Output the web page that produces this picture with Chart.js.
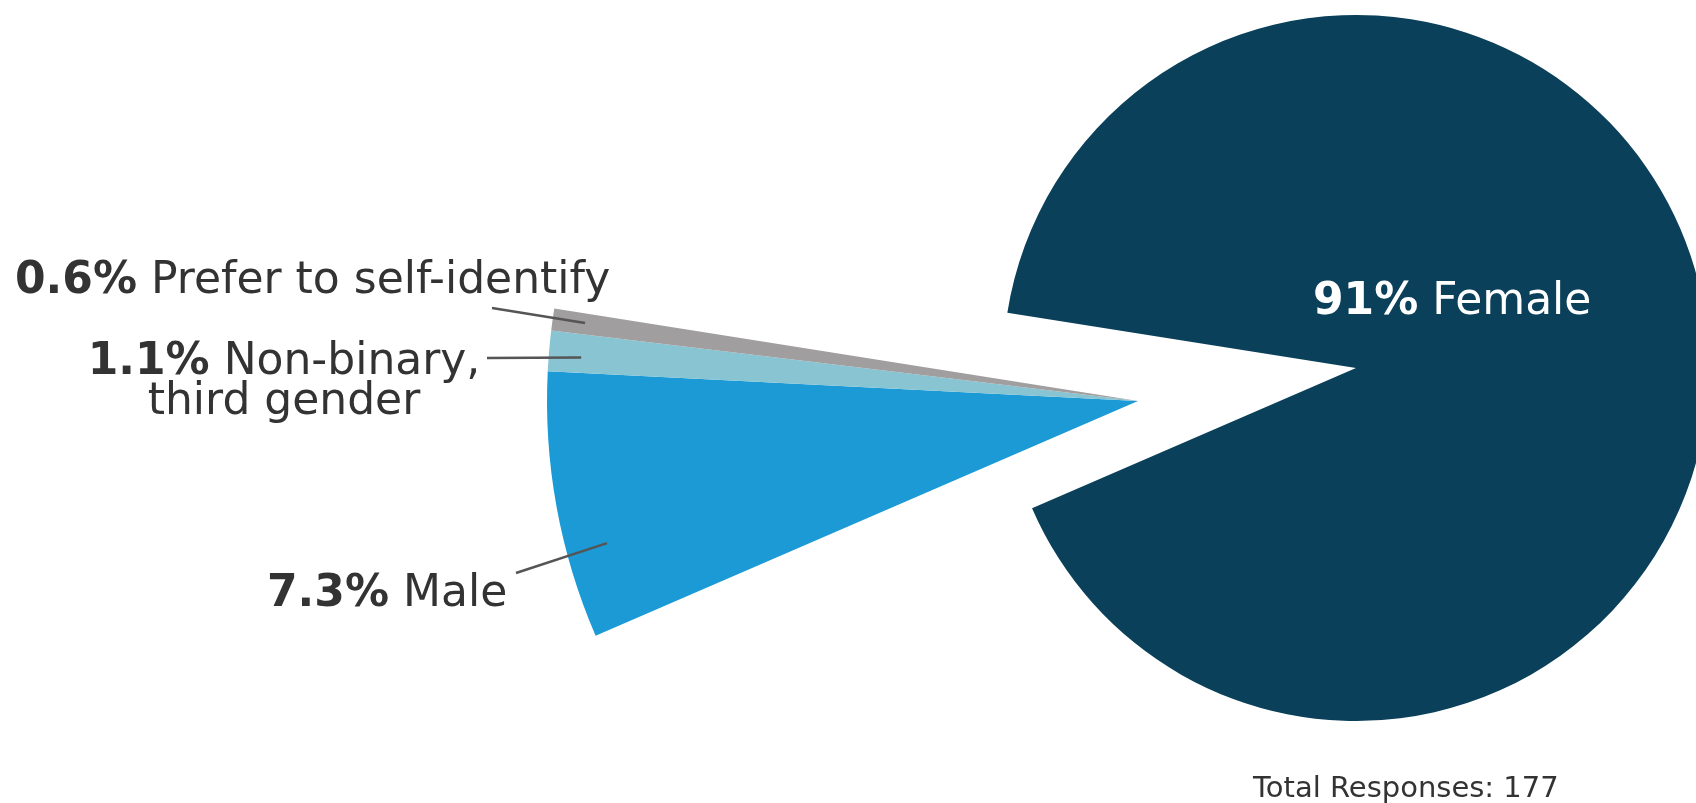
<!DOCTYPE html>
<html>
<head>
<meta charset="utf-8">
<script src="https://cdn.jsdelivr.net/npm/chart.js@4/dist/chart.umd.min.js"></script>
<style>
html,body{margin:0;padding:0;width:1696px;height:803px;overflow:hidden;background:#ffffff;}
#wrap{position:relative;width:1696px;height:803px;overflow:hidden;}
canvas{position:absolute;}
.lbl{position:absolute;font-family:"DejaVu Sans",sans-serif;font-size:44px;color:#333333;white-space:nowrap;line-height:40px;}
.lbl b{font-weight:bold;}
#total{position:absolute;font-family:"DejaVu Sans",sans-serif;font-size:29px;line-height:30px;color:#333333;white-space:nowrap;left:1253px;top:772px;}
</style>
</head>
<body>
<div id="wrap">
  <canvas id="smallPie" width="1729" height="1182" style="left:0px;top:-190px"></canvas>
  <canvas id="mainPie" width="706" height="706" style="left:1003px;top:15px"></canvas>
  <div class="lbl" id="lbl0" style="left:1313px;top:279px;color:#ffffff"></div>
  <div class="lbl" id="lbl1" style="left:267px;top:571px"></div>
  <div class="lbl" id="lbl2" style="left:34px;top:339px;width:500px;text-align:center;white-space:pre-line"></div>
  <div class="lbl" id="lbl3" style="left:15px;top:258px"></div>
  <div id="total"></div>
</div>
<script>
// ---- data ----
const categories = ['Female', 'Male', 'Non-binary, third gender', 'Prefer to self-identify'];
const percentValues = [91, 7.3, 1.1, 0.6];
const percentLabels = ['91%', '7.3%', '1.1%', '0.6%'];
const labelNames = ['Female', 'Male', 'Non-binary,\nthird gender', 'Prefer to self-identify'];
const totalResponses = 177;

// ---- style ----
const sliceColors = ['#0a4059', '#1b9ad6', '#89c4d3', '#a09e9e'];
const ROTATION = 279;

// labels as real text
for (let i = 0; i < categories.length; i++) {
  const el = document.getElementById('lbl' + i);
  el.innerHTML = '<b>' + percentLabels[i] + '</b> ' + labelNames[i].replace('\n', '<br>');
}
document.getElementById('total').textContent = 'Total Responses: ' + totalResponses;

// leader lines: slice point derived from arc geometry, other end at label (page coords)
const smallCanvasOffset = {x: 0, y: -190};
const leaderSpecs = [
  null,
  {angleFrac: 0.32, radiusFrac: 0.93, to: [516, 573]},
  {angleFrac: 0.40, radiusFrac: 0.945, to: [487, 358]},
  {angleFrac: 0.55, radiusFrac: 0.945, to: [492, 308]}
];
const leaderPlugin = {
  id: 'leaders',
  afterDatasetsDraw(chart) {
    const ctx = chart.ctx;
    const meta = chart.getDatasetMeta(0);
    ctx.save();
    ctx.strokeStyle = '#555555';
    ctx.lineWidth = 2.5;
    leaderSpecs.forEach((s, i) => {
      if (!s) return;
      const arc = meta.data[i];
      const p = arc.getProps(['x', 'y', 'startAngle', 'endAngle', 'outerRadius'], true);
      const a = p.startAngle + s.angleFrac * (p.endAngle - p.startAngle);
      const r = p.outerRadius * s.radiusFrac;
      const x1 = p.x + r * Math.cos(a), y1 = p.y + r * Math.sin(a);
      const x0 = s.to[0] - smallCanvasOffset.x, y0 = s.to[1] - smallCanvasOffset.y;
      ctx.beginPath();
      ctx.moveTo(x0, y0);
      ctx.lineTo(x1, y1);
      ctx.stroke();
    });
    ctx.restore();
  }
};

function pieConfig(colors, padding, plugins) {
  return {
    type: 'pie',
    data: {
      labels: categories,
      datasets: [{
        data: percentValues,
        backgroundColor: colors,
        borderWidth: 0,
        hoverOffset: 0,
        offset: 0
      }]
    },
    options: {
      responsive: false,
      animation: false,
      events: [],
      rotation: ROTATION,
      layout: {padding: padding},
      plugins: {legend: {display: false}, tooltip: {enabled: false}}
    },
    plugins: plugins
  };
}

// main (female) pie
new Chart(document.getElementById('mainPie'),
  pieConfig(sliceColors.map((c, i) => i === 0 ? c : 'rgba(0,0,0,0)'), 0, []));

// exploded small slices, larger radius, shared apex
new Chart(document.getElementById('smallPie'),
  pieConfig(sliceColors.map((c, i) => i === 0 ? 'rgba(0,0,0,0)' : c), {left: 547, top: 0, right: 0, bottom: 0}, [leaderPlugin]));
</script>
</body>
</html>
